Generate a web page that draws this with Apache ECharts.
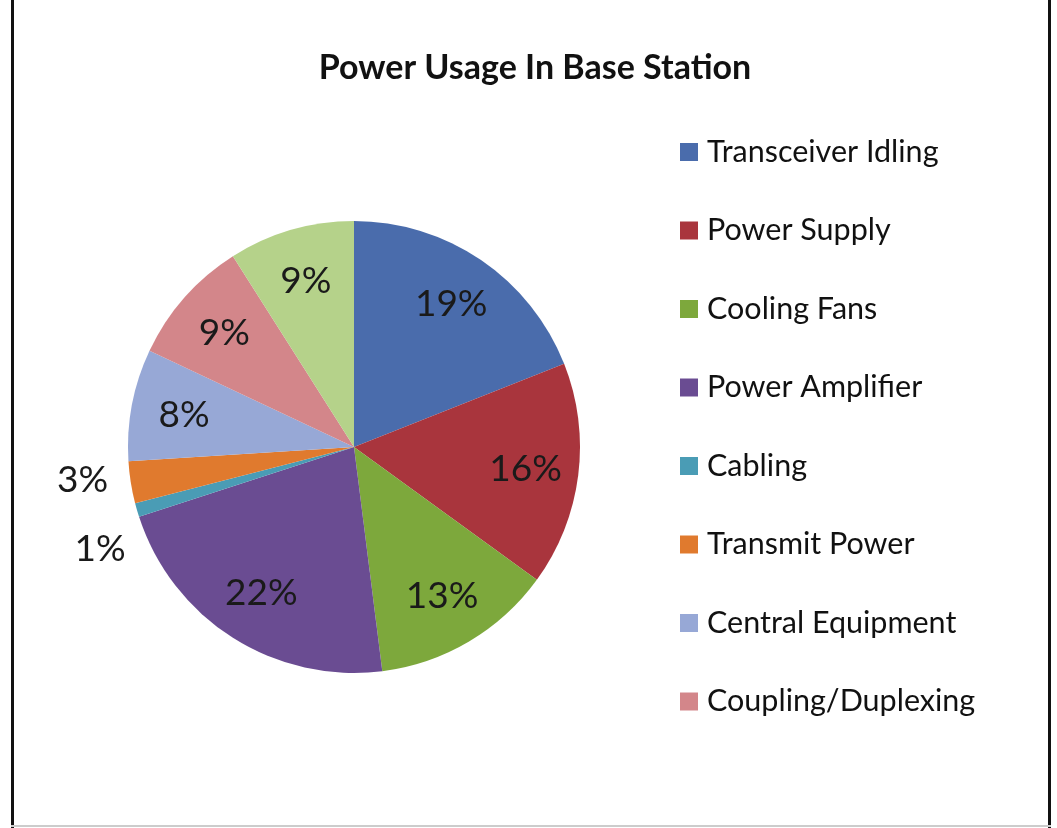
<!DOCTYPE html>
<html>
<head>
<meta charset="utf-8">
<script src="https://cdn.jsdelivr.net/npm/echarts@6/dist/echarts.min.js"></script>
<style>
html,body{margin:0;padding:0;background:#fff;}
#chart{width:1057px;height:828px;}
</style>
</head>
<body>
<div id="chart"></div>
<script>
const categories = ['Transceiver Idling','Power Supply','Cooling Fans','Power Amplifier','Cabling','Transmit Power','Central Equipment','Coupling/Duplexing','Other'];
const shares = [19,16,13,22,1,3,8,9,9];
const sliceColors = ['#4A6CAC','#A9353D','#7DA83C','#6A4C92','#4A9CB5','#E07A2E','#97A8D6','#D3868A','#B5D28A'];
const legendNames = categories.slice(0,8);
const outsideLabelNames = ['Cabling','Transmit Power'];

const FONT = 'Lato, "Open Sans", sans-serif';
const chart = echarts.init(document.getElementById('chart'));

const pieData = categories.map((n,i)=>({name:n, value:shares[i], itemStyle:{color:sliceColors[i]}}));
const labelData = categories.map((n,i)=>{
  const outside = outsideLabelNames.indexOf(n) >= 0;
  return {
    name:n, value:shares[i],
    label:{position: outside ? 'outside' : 'inside'},
    labelLine:{show:false, length: outside ? 16 : 0, length2: 0}
  };
});

// small nudges for the two outside labels (as the original spreads them apart)
function labelNudge(params){
  const name = categories[params.dataIndex];
  if (name === 'Cabling') return {dx: 9, dy: 25};
  if (name === 'Transmit Power') return {dx: -5, dy: -5};
  return {};
}

chart.setOption({
  animation:false,
  backgroundColor:'#fff',
  title:{
    text:'Power Usage In Base Station',
    left:530, top:46, textAlign:'center',
    textStyle:{fontFamily:FONT, fontWeight:'bold', fontSize:34, color:'#111'}
  },
  legend:{
    data:legendNames,
    orient:'vertical',
    left:680, top:135, padding:0,
    icon:'rect', itemWidth:18, itemHeight:18, itemGap:44.5,
    textStyle:{fontFamily:FONT, fontSize:30.5, color:'#111', lineHeight:34, padding:[0,0,0,4]},
    selectedMode:false
  },
  graphic:[
    {type:'rect', shape:{x:11, y:0, width:3, height:828}, style:{fill:'#111'}},
    {type:'rect', shape:{x:1048, y:0, width:3, height:828}, style:{fill:'#111'}},
    {type:'rect', shape:{x:11, y:825, width:1040, height:2}, style:{fill:'#ccc'}}
  ],
  series:[
    {
      type:'pie',
      center:[354,447], radius:[0,226],
      startAngle:90, clockwise:true,
      label:{show:false}, labelLine:{show:false},
      itemStyle:{borderWidth:0},
      emphasis:{disabled:true},
      data:pieData
    },
    {
      type:'pie',
      center:[354,447], radius:[114,226],
      startAngle:90, clockwise:true, silent:true,
      itemStyle:{color:'rgba(0,0,0,0)', borderWidth:0},
      label:{show:true, formatter:'{c}%', fontFamily:FONT, fontSize:37, color:'#1a1a1a'},
      labelLine:{show:false},
      labelLayout: labelNudge,
      avoidLabelOverlap:true,
      emphasis:{disabled:true},
      data:labelData
    }
  ]
});
</script>
</body>
</html>
